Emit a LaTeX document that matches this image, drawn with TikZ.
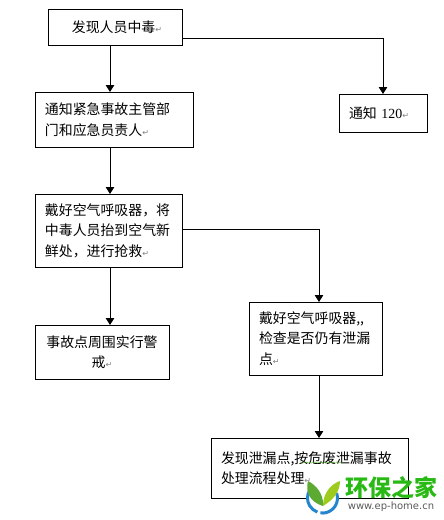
\documentclass[tikz,border=0pt]{standalone}
\usepackage{fontspec}
\setmainfont{Liberation Serif}
\newfontfamily\cjk{Noto Sans CJK SC}
\newfontfamily\arrowfont{DejaVu Sans}
\usetikzlibrary{arrows.meta,decorations.pathmorphing}
\definecolor{logogreen}{RGB}{40,185,20}
\definecolor{leafgreen}{RGB}{92,170,50}
\definecolor{logoblue}{RGB}{36,134,206}
\newcommand{\parmark}{{\color{gray}\arrowfont\fontsize{8}{8}\selectfont ↵}}
\tikzset{
  flowbox/.style={draw,line width=1pt,inner xsep=10pt,inner ysep=0pt,outer sep=0pt,
    font=\cjk\fontsize{13.9}{20.5}\selectfont},
  flowline/.style={line width=1pt,-{Triangle[length=7pt,width=8.5pt]}}
}
\begin{document}
\begin{tikzpicture}[x=1pt,y=-1pt]
    \useasboundingbox (0,0) rectangle (444,520);
    \node[flowbox,align=center,text width=114pt,minimum height=36pt] (found) at (115,27)
      {\hspace*{4pt}发现人员中毒\parmark};
    \node[flowbox,align=left,text width=138pt,minimum height=55pt] (notify) at (114,119.5)
      {通知紧急事故主管部\\门和应急员责人\parmark};
    \node[flowbox,align=left,text width=68pt,minimum height=38pt] (call) at (383,113)
      {通知 {\rmfamily 120}\parmark};
    \node[flowbox,align=left,text width=127pt,minimum height=73pt] (rescue) at (108.5,230.5)
      {戴好空气呼吸器，将\\中毒人员抬到空气新\\鲜处，进行抢救\parmark};
    \node[flowbox,align=center,text width=114pt,minimum height=54pt] (guard) at (102,352)
      {事故点周围实行警\\戒\parmark};
    \node[flowbox,align=left,text width=113pt,minimum height=73pt] (check) at (315.5,338.5)
      {戴好空气呼吸器,,\\检查是否仍有泄漏\\点\parmark};
    \node[flowbox,align=left,text width=177pt,minimum height=60pt] (leak) at (309.5,468)
      {发现泄漏点,按危废泄漏事故\\处理流程处理\parmark};
    \path[flowline]
      ([xshift=-5pt]found.south) edge ([xshift=-4pt]notify.north)
      ([xshift=-4pt]notify.south) edge ([xshift=1.5pt]rescue.north)
      ([xshift=1.5pt]rescue.south) edge ([xshift=8pt]guard.north)
      ([xshift=3.5pt]check.south) edge ([xshift=9.5pt]leak.north);
    \draw[flowline] ([yshift=-11pt]found.east) -| (call.north);
    \draw[flowline] ([yshift=1.5pt]rescue.east) -| ([xshift=3.5pt]check.north);
    % spell check mark
    \draw[leafgreen,line width=0.4pt,decorate,decoration={snake,amplitude=0.7pt,segment length=3pt}]
      (300,462.5) -- (343,462.5);
    % watermark
    \fill[white] (322.5,498) circle[radius=16pt];
    \draw[logoblue,line width=3pt] (309.5,490.5) arc[start angle=150,end angle=250,radius=15pt];
    \draw[logoblue,line width=3pt] (320.4,512.9) arc[start angle=262,end angle=380,radius=15pt];
    \fill[leafgreen] (323,506) .. controls (310,502) and (305,492) .. (308,481)
      .. controls (316,485) and (324,494) .. cycle;
    \fill[leafgreen!60!yellow] (323,506) .. controls (333,500) and (340,492) .. (340,481)
      .. controls (331,484) and (323,493) .. cycle;
    \node[text=logogreen,inner sep=0pt,font=\cjk\bfseries\fontsize{23}{23}\selectfont] (brand) at (391.5,488) {环保之家};
    \node[text=gray!70!black,inner sep=0pt,font=\arrowfont\fontsize{10}{10}\selectfont] (site) at (391,507) {www.ep-home.cn};
  \end{tikzpicture}
\end{document}
